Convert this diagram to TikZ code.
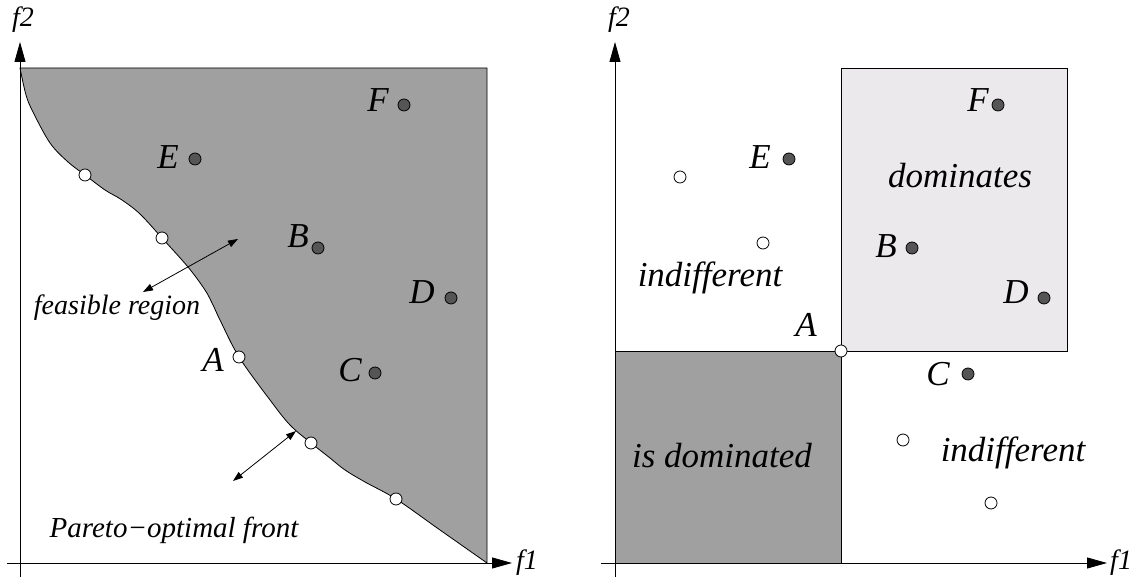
\documentclass[tikz,border=0pt]{standalone}
\usepackage{fontspec}
\setmainfont{Liberation Serif}
\usetikzlibrary{arrows.meta,positioning}
\definecolor{regiongray}{RGB}{160,160,160}
\definecolor{dotgray}{RGB}{85,85,85}
\definecolor{lightbox}{RGB}{235,233,236}

\begin{document}
\begin{tikzpicture}[x=1pt,y=1pt,
    axis/.style={-{Triangle[length=20pt,width=11pt]}, line width=0.8pt},
    dbl/.style={{Triangle[length=10pt,width=7pt]}-{Triangle[length=10pt,width=7pt]},
               line width=0.8pt},
    sol/.style={circle, draw, line width=0.8pt, fill=dotgray, minimum size=12pt,
               inner sep=0pt},
    opt/.style={circle, draw, line width=0.8pt, fill=white, minimum size=12pt,
               inner sep=0pt},
    lbl/.style={font=\fontsize{35}{40}\selectfont\itshape, inner sep=0pt},
    small/.style={font=\fontsize{28}{32}\selectfont\itshape, inner sep=0pt},
    axlbl/.style={font=\fontsize{28}{32}\selectfont\itshape, inner sep=0pt}]
    \useasboundingbox (0,0) rectangle (1137,577);

    % ---------------- left panel: feasible region ----------------
    \filldraw[fill=regiongray, line width=0.8pt]
      plot[smooth, tension=0.55] coordinates {(20,509) (26,482) (33,465) (50,434)
        (68,415) (85,402) (105,387) (122,377) (140,363) (162,339) (188,310)
        (205,287) (213,272) (220,257) (239,220) (270,177) (290,152) (311,134)
        (330,119) (345,107) (365,95) (396,78) (440,47) (487,14)}
      -- (487,509) -- cycle;

    % axes
    \coordinate (L-ybot) at (20,0);
    \coordinate (L-ytop) at (20,535);
    \coordinate (L-xbeg) at (7,14);
    \coordinate (L-xend) at (512,14);
    \draw[axis] (L-ybot) -- (L-ytop);
    \draw[axis] (L-xbeg) -- (L-xend);
    \node[axlbl] (L-f2) at (23,557) {f2};
    \node[axlbl, anchor=west] (L-f1) at (516,14) {f1};

    % Pareto-optimal solutions on the front
    \node[opt] (L-p1) at (85,402) {};
    \node[opt] (L-p2) at (162,339) {};
    \node[opt] (L-A)  at (239,220) {};
    \node[opt] (L-p4) at (311,134) {};
    \node[opt] (L-p5) at (396,78) {};

    % other solutions
    \node[sol] (L-F) at (404,472) {};
    \node[sol] (L-E) at (195,418) {};
    \node[sol] (L-B) at (318,329) {};
    \node[sol] (L-D) at (451,279) {};
    \node[sol] (L-C) at (375,204) {};

    \node[lbl] (L-Flbl) at (378,477) {F};
    \node[lbl] (L-Elbl) at (168,420) {E};
    \node[lbl] (L-Blbl) at (298,341) {B};
    \node[lbl] (L-Dlbl) at (422,285) {D};
    \node[lbl] (L-Clbl) at (350,207) {C};
    \node[lbl] (L-Albl) at (213,217) {A};

    % annotations
    \node[small, anchor=base] (feas) at (117,262) {feasible region};
    \coordinate (feas-a) at (143,285);
    \coordinate (feas-b) at (238,338);
    \draw[dbl] (feas-a) -- (feas-b);

    \node[small, anchor=base, font=\fontsize{29}{33}\selectfont\itshape]
      (front) at (174,39) {Pareto−optimal front};
    \coordinate (front-a) at (233,96);
    \coordinate (front-b) at (296,146);
    \draw[dbl] (front-a) -- (front-b);

    % ---------------- right panel: dominance around A ----------------
    \filldraw[fill=regiongray, line width=0.8pt] (615,14) rectangle (841,226);
    \filldraw[fill=lightbox, line width=0.8pt] (841,226) rectangle (1067,509);

    % axes
    \coordinate (R-ybot) at (615,0);
    \coordinate (R-ytop) at (615,535);
    \coordinate (R-xbeg) at (601,14);
    \coordinate (R-xend) at (1107,14);
    \draw[axis] (R-ybot) -- (R-ytop);
    \draw[axis] (R-xbeg) -- (R-xend);
    \node[axlbl] (R-f2) at (619,557) {f2};
    \node[axlbl, anchor=west] (R-f1) at (1110,14) {f1};

    % region names
    \node[lbl, anchor=base] (dom)    at (960,389) {dominates};
    \node[lbl, anchor=base] (isdom)  at (722,109) {is dominated};
    \node[lbl, anchor=base] (indL)   at (710,290) {indifferent};
    \node[lbl, anchor=base] (indR)   at (1013,115) {indifferent};

    % solutions
    \node[opt] (R-A) at (841,226) {};
    \node[sol] (R-F) at (998,472) {};
    \node[sol] (R-B) at (912,329) {};
    \node[sol] (R-D) at (1044,279) {};
    \node[sol] (R-E) at (789,418) {};
    \node[sol] (R-C) at (968,203) {};
    \node[opt] (R-q1) at (680,400) {};
    \node[opt] (R-q2) at (763,334) {};
    \node[opt] (R-q3) at (903,137) {};
    \node[opt] (R-q4) at (991,74) {};

    \node[lbl] (R-Albl) at (806,252) {A};
    \node[lbl] (R-Flbl) at (978,477) {F};
    \node[lbl] (R-Blbl) at (886,331) {B};
    \node[lbl] (R-Dlbl) at (1016,285) {D};
    \node[lbl] (R-Elbl) at (760,420) {E};
    \node[lbl] (R-Clbl) at (938,203) {C};
\end{tikzpicture}
\end{document}
